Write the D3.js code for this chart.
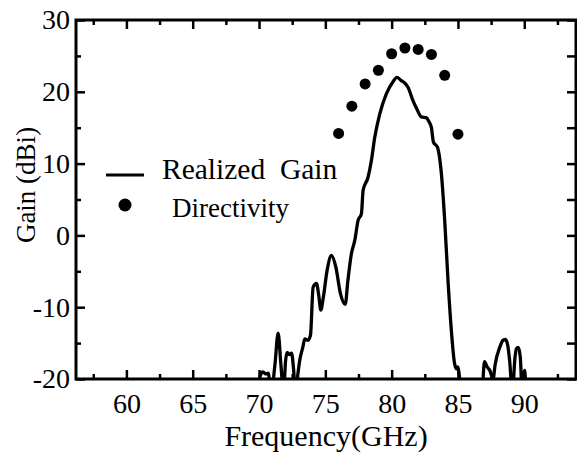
<!DOCTYPE html>
<html>
<head>
<meta charset="utf-8">
<script src="https://cdn.jsdelivr.net/npm/d3@7"></script>
<style>
  body { margin: 0; background: #fff; }
  text { font-family: "Liberation Serif", "Times New Roman", serif; fill: #000; }
</style>
</head>
<body>
<div id="container"></div>
<script>
let freq = [69.8, 70.1, 70.3, 70.5, 70.7, 70.9, 71.2, 71.44, 71.65, 71.85, 72.0, 72.12, 72.28, 72.45, 72.6, 72.75,
  72.95, 73.07, 73.3, 73.45, 73.7, 73.88, 74.08, 74.33, 74.5, 74.66, 74.85, 75.13, 75.46, 75.79, 76.14, 76.5,
  76.7, 76.97, 77.22, 77.47, 77.72, 77.85, 78.22, 78.47, 78.73, 79.1, 79.6, 80.1, 80.4, 80.7, 81.0, 81.24,
  81.6, 81.9, 82.25, 82.6, 82.8, 83.0, 83.15, 83.45, 83.75, 84.0, 84.25, 84.5, 84.75, 84.9, 85.0, 85.1,
  85.3, 86.8, 87.0, 87.2, 87.4, 87.65, 87.8, 88.15, 88.4, 88.58, 88.75, 88.9, 89.1, 89.3, 89.4, 89.55,
  89.7, 89.85, 89.95, 90.03, 90.15, 90.5]
let realized_gain = [-24, -19.5, -19.0, -19.3, -19.2, -22, -18, -13.6, -18, -22, -17.5, -16.3, -16.6, -16.4, -18.5, -22,
  -19, -17.4, -15.6, -14.4, -14.6, -13.9, -7.2, -6.7, -8.3, -10.4, -8.6, -4.9, -2.8, -4.4, -8.1, -9.6,
  -6.3, -2.5, -0.7, 2.1, 3.0, 6.3, 8.1, 10.4, 13.7, 16.9, 19.7, 21.4, 22.0, 21.6, 21.2, 20.6,
  18.8, 17.6, 16.5, 16.4, 15.9, 15.0, 13.0, 12.3, 8.6, 2.1, -6.3, -13.2, -17.9, -18.6, -18.3, -19.5,
  -22, -22, -17.6, -18.3, -18.8, -20, -18, -15.6, -14.6, -14.5, -15.3, -17.5, -22, -17, -15.8, -15.6,
  -17, -22, -19.5, -18.8, -22, -24]

let dir_freq = [76, 77, 78, 79, 80, 81, 82, 83, 84, 85]
let directivity = [14.2, 18.0, 21.1, 23.0, 25.3, 26.1, 25.9, 25.2, 22.3, 14.1]

let x_ticks = [60, 65, 70, 75, 80, 85, 90]
let x_minor = [57.5, 62.5, 67.5, 72.5, 77.5, 82.5, 87.5, 92.5]
let y_ticks = [-20, -10, 0, 10, 20, 30]
let y_minor = [-15, -5, 5, 15, 25]

let legend_labels = ['Realized  Gain', 'Directivity']

let width = 577,
  height = 457,
  padding = { top: 20, left: 76, bottom: 78, right: 1 },
  w = width - padding.left - padding.right,
  h = height - padding.top - padding.bottom

let svg = d3.select('#container')
  .append('svg')
  .attr('width', width)
  .attr('height', height)

let g = svg.append('g')
  .attr('transform', 'translate(' + padding.left + ',' + padding.top + ')')

let scale_x = d3.scaleLinear().domain([56.2, 93.9]).range([0, w])
let scale_y = d3.scaleLinear().domain([-20, 30]).range([h, 0])

svg.append('defs').append('clipPath').attr('id', 'clip')
  .append('rect').attr('width', w).attr('height', h)

// realized gain curve
let line_generator = d3.line()
  .x(function (d, i) { return scale_x(freq[i]) })
  .y(function (d) { return scale_y(d) })
  .curve(d3.curveMonotoneX)

g.append('path')
  .attr('clip-path', 'url(#clip)')
  .attr('d', line_generator(realized_gain))
  .attr('fill', 'none')
  .attr('stroke', '#000')
  .attr('stroke-width', 3.3)
  .attr('stroke-linejoin', 'round')

// directivity dots
g.selectAll('circle.dir')
  .data(directivity).enter().append('circle')
  .attr('class', 'dir')
  .attr('cx', function (d, i) { return scale_x(dir_freq[i]) })
  .attr('cy', function (d) { return scale_y(d) })
  .attr('r', 5.5)

// axes: major + minor ticks, all pointing inward
function style_axis(sel) {
  sel.select('.domain').remove()
  sel.selectAll('.tick line').attr('stroke', '#000').attr('stroke-width', 2.5)
  sel.selectAll('text').style('font-size', '28px').attr('fill', '#000')
}

let fmt = function (d) { return String(d) }

g.append('g').attr('transform', 'translate(0,' + h + ')')
  .call(d3.axisBottom(scale_x).tickValues(x_ticks).tickSize(-9).tickPadding(14).tickFormat(fmt))
  .call(style_axis)
g.append('g').attr('transform', 'translate(0,' + h + ')')
  .call(d3.axisBottom(scale_x).tickValues(x_minor).tickSize(-5).tickFormat(''))
  .call(style_axis)
g.append('g')
  .call(d3.axisTop(scale_x).tickValues(x_ticks).tickSize(-9).tickFormat(''))
  .call(style_axis)
g.append('g')
  .call(d3.axisTop(scale_x).tickValues(x_minor).tickSize(-5).tickFormat(''))
  .call(style_axis)

g.append('g')
  .call(d3.axisLeft(scale_y).tickValues(y_ticks).tickSize(-9).tickPadding(6).tickFormat(fmt))
  .call(style_axis)
g.append('g')
  .call(d3.axisLeft(scale_y).tickValues(y_minor).tickSize(-5).tickFormat(''))
  .call(style_axis)
g.append('g').attr('transform', 'translate(' + w + ',0)')
  .call(d3.axisRight(scale_y).tickValues(y_ticks.concat(y_minor)).tickSize(-9).tickFormat(''))
  .call(style_axis)

g.append('rect')
  .attr('width', w).attr('height', h)
  .attr('fill', 'none').attr('stroke', '#000').attr('stroke-width', 3)

// axis titles
svg.append('text')
  .attr('x', 326).attr('y', 446)
  .attr('text-anchor', 'middle')
  .style('font-size', '30px')
  .text('Frequency(GHz)')

svg.append('text')
  .attr('transform', 'translate(35,185) rotate(-90)')
  .attr('text-anchor', 'middle')
  .style('font-size', '27px')
  .text('Gain (dBi)')

// legend
let legend = svg.append('g')
legend.append('line')
  .attr('x1', 106).attr('x2', 144).attr('y1', 175).attr('y2', 175)
  .attr('stroke', '#000').attr('stroke-width', 3)
legend.append('text')
  .attr('x', 162).attr('y', 179)
  .style('font-size', '29.5px').style('white-space', 'pre')
  .text(legend_labels[0])
legend.append('circle')
  .attr('cx', 125).attr('cy', 205).attr('r', 6.5)
legend.append('text')
  .attr('x', 172).attr('y', 217)
  .style('font-size', '27px')
  .text(legend_labels[1])
</script>
</body>
</html>
